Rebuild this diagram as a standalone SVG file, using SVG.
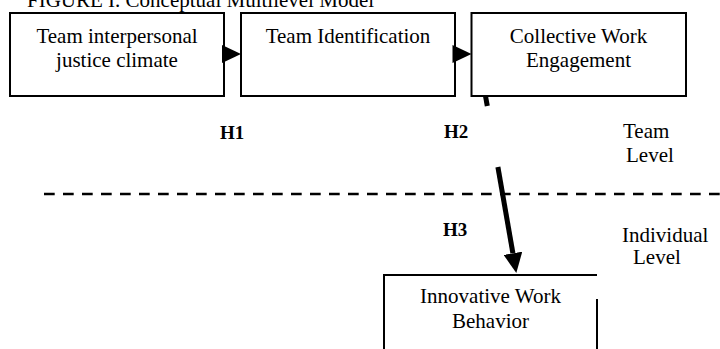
<svg xmlns="http://www.w3.org/2000/svg" width="720" height="349" viewBox="0 0 720 349">
<style>
.box{fill:#fff;stroke:#000;stroke-width:2}
.t{font-family:"Liberation Serif","Times New Roman",serif;font-size:21px;fill:#000}
.c{text-anchor:middle}
.h{font-family:"Liberation Serif","Times New Roman",serif;font-size:19px;font-weight:bold;fill:#000}
</style>
<defs>
<marker id="ah" markerUnits="userSpaceOnUse" markerWidth="20" markerHeight="19" viewBox="0 0 20 19" refX="0" refY="9.5" orient="auto"><path d="M0,0 L20,9.5 L0,19 z" fill="#000"/></marker>
</defs>
<rect width="720" height="349" fill="#fff"/>
<text class="t" x="27" y="7">FIGURE I. Conceptual Multilevel Model</text>
<g id="node-justice">
<rect class="box" x="10" y="13" width="214" height="83"/>
<text class="t c" x="117" y="43">Team interpersonal</text>
<text class="t c" x="117" y="67">justice climate</text>
</g>
<g id="node-identification">
<rect class="box" x="241" y="13" width="214" height="83"/>
<text class="t c" x="348" y="43">Team Identification</text>
</g>
<g id="node-engagement">
<rect class="box" x="471.5" y="13" width="214.5" height="83"/>
<text class="t c" x="578.5" y="43">Collective Work</text>
<text class="t c" x="578.5" y="67">Engagement</text>
</g>
<g id="node-innovative">
<path d="M384,349 V275 H597" fill="none" stroke="#000" stroke-width="2"/>
<path d="M597,299 V349" fill="none" stroke="#000" stroke-width="2"/>
<text class="t c" x="490.5" y="303">Innovative Work</text>
<text class="t c" x="490.5" y="328">Behavior</text>
</g>
<g id="connectors">
<path d="M222,45 L241,54 L222,63 z" fill="#000"/>
<path d="M452.5,45 L471.5,54 L452.5,63 z" fill="#000"/>
<line x1="485.5" y1="96" x2="487.3" y2="106" stroke="#000" stroke-width="5"/>
<line x1="497.9" y1="167" x2="512.9" y2="253.3" stroke="#000" stroke-width="5" marker-end="url(#ah)"/>
</g>
<g id="levels">
<line x1="44" y1="194" x2="720" y2="194" stroke="#000" stroke-width="2.5" stroke-dasharray="10.7 8.3"/>
<text class="h" x="220" y="139">H1</text>
<text class="h" x="444" y="138">H2</text>
<text class="h" x="443" y="236">H3</text>
<text class="t" x="623" y="138">Team</text>
<text class="t" x="626" y="162">Level</text>
<text class="t" x="622" y="242">Individual</text>
<text class="t" x="633" y="264">Level</text>
</g>
</svg>
